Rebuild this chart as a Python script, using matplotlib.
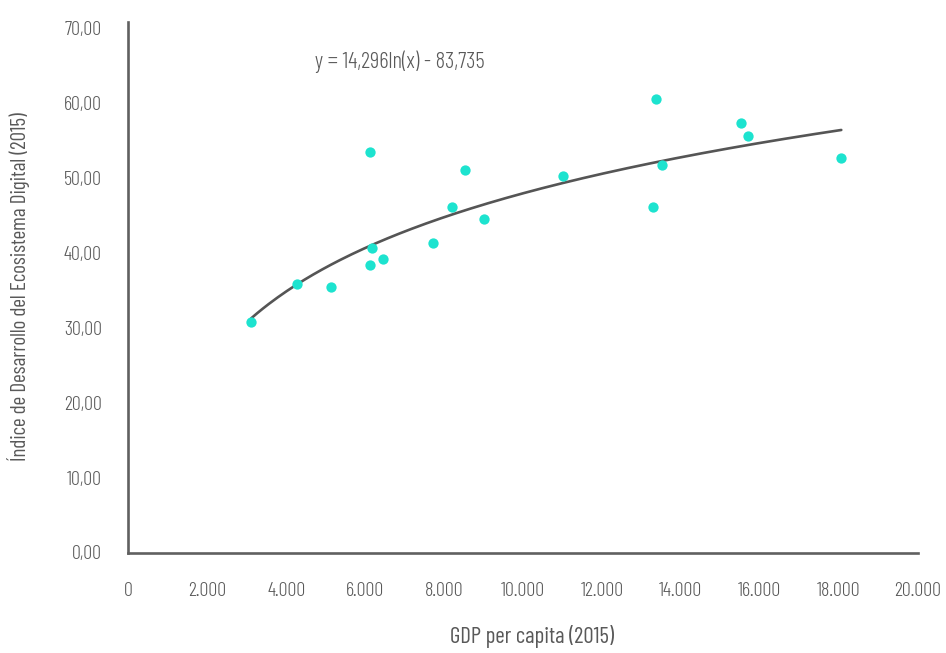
import matplotlib
matplotlib.use("Agg")
import matplotlib.pyplot as plt
from matplotlib.ticker import FixedLocator, FuncFormatter
import numpy as np

# PIB per cápita vs. índice de desarrollo del ecosistema digital (2015)
gdp = [3109, 4267, 5128, 6124, 6124, 6182, 6445, 7712, 8209, 8531,
       9020, 11021, 13370, 13301, 13514, 15516, 15708, 18064]
indice = [30.75, 35.86, 35.42, 53.40, 38.31, 40.58, 39.16, 41.30, 46.15, 51.00,
          44.47, 50.29, 60.48, 46.15, 51.66, 57.27, 55.54, 52.65]

# tendencia logarítmica y = a*ln(x) + b
a, b = 14.296, -83.735

x_ticks = list(range(0, 20001, 2000))
y_ticks = list(range(0, 71, 10))

gris = "#595959"
eje = "#606060"
turquesa = "#1de3cf"

plt.rcParams["font.family"] = ["Barlow Condensed", "DejaVu Sans"]
plt.rcParams["font.weight"] = 300

W, H = 946, 653
fig = plt.figure(figsize=(W / 100, H / 100), dpi=100)
ax = fig.add_axes([128.3 / W, 100.5 / H, 789.4 / W, 530.5 / H])

ax.scatter(gdp, indice, s=55, color=turquesa, linewidths=0, zorder=3)

xs = np.linspace(min(gdp), max(gdp), 200)
ax.plot(xs, a * np.log(xs) + b, color="#555555", lw=1.9, zorder=2,
        solid_capstyle="round")

fig.text(400 / W, 1 - 62 / H, "y = 14,296ln(x) - 83,735",
         ha="center", va="center", fontsize=16.5, color=gris, fontweight=300)

ax.set_xlim(0, 20000)
ax.set_ylim(0, 70.8)

for lado in ("top", "right"):
    ax.spines[lado].set_visible(False)
for lado in ("left", "bottom"):
    ax.spines[lado].set_color(eje)
    ax.spines[lado].set_linewidth(1.9)

ax.xaxis.set_major_locator(FixedLocator(x_ticks))
ax.yaxis.set_major_locator(FixedLocator(y_ticks))
ax.xaxis.set_major_formatter(FuncFormatter(lambda v, p: f"{int(v):,}".replace(",", ".")))
ax.yaxis.set_major_formatter(FuncFormatter(lambda v, p: f"{v:.2f}".replace(".", ",")))
ax.tick_params(which="major", length=0, labelsize=14.5, labelcolor=gris)
ax.tick_params(axis="x", which="major", pad=21)
ax.tick_params(axis="y", which="major", pad=19)

# pequeñas marcas que cruzan el origen
ax.xaxis.set_minor_locator(FixedLocator([0]))
ax.yaxis.set_minor_locator(FixedLocator([0]))
ax.tick_params(which="minor", length=6.7, width=1.9, color=eje, direction="out")

ax.set_xlabel("GDP per capita (2015)", fontsize=16.5, color=gris)
ax.set_ylabel("Índice de Desarrollo del Ecosistema Digital (2015)", fontsize=15.2,
              color=gris)
ax.xaxis.label.set_va("center")
ax.yaxis.label.set_va("center")
ax.xaxis.set_label_coords(0.5114, -0.1574)
ax.yaxis.set_label_coords(-0.1397, 0.501)

fig.savefig("out.png", dpi=100)
